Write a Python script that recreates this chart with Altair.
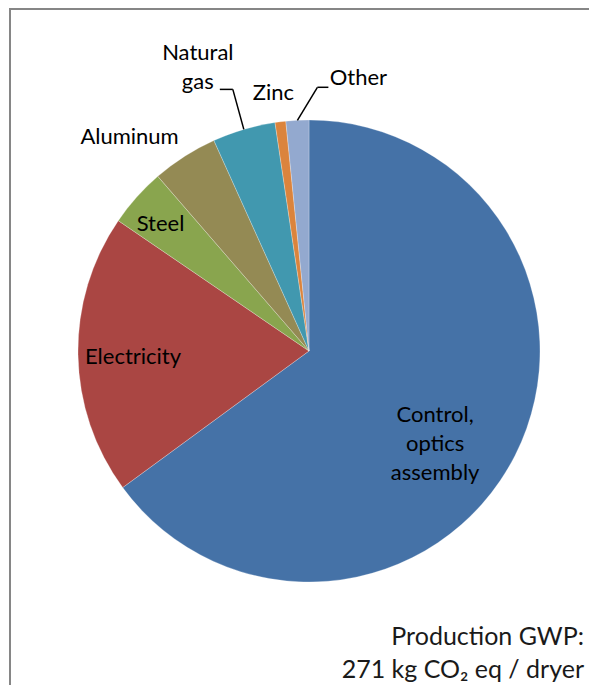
import altair as alt
import pandas as pd

categories = ["Control, optics assembly", "Electricity", "Steel", "Aluminum", "Natural gas", "Zinc", "Other"]
shares = [64.9, 19.6, 4.1, 4.6, 4.4, 0.75, 1.6]
colors = ["#4572A7", "#AA4643", "#89A54E", "#948A54", "#4198AF", "#DB843D", "#93A9CF"]
note_lines = ["Production GWP:", "271 kg CO\u2082 eq / dryer"]

df = pd.DataFrame({"category": categories, "value": shares, "order": list(range(len(categories)))})

W, H = 581, 677
CX, CY, R = 301, 343, 231
FONT = "Lato"
FS = 22
LH = 29

base = (
    alt.Chart(df)
    .transform_window(cum="sum(value)", sort=[alt.SortField("order")], frame=[None, 0])
    .transform_joinaggregate(total="sum(value)")
    .transform_calculate(mid="PI * (2 * datum.cum - datum.value) / datum.total")
)

pie = alt.Chart(df).mark_arc(radius=R, stroke="white", strokeWidth=0.5, strokeOpacity=0.5).encode(
    theta=alt.Theta("value:Q", stack=True),
    order=alt.Order("order:Q"),
    color=alt.Color("category:N", scale=alt.Scale(domain=categories, range=colors), legend=None),
    x=alt.value(CX),
    y=alt.value(CY),
)

# label layout: (radius from centre along slice middle, dx, dy of block centre, text)
label_layout = {
    "Control, optics assembly": (156, -13, 22, "Control,\noptics\nassembly"),
    "Electricity": (176, 0, 3, "Electricity"),
    "Steel": (195, -3, 3, "Steel"),
    "Aluminum": (R, -55, -19, "Aluminum"),
    "Natural gas": (R, -46, -62, "Natural\ngas"),
    "Zinc": (R, -7, -29, "Zinc"),
    "Other": (R, 61, -42, "Other"),
}

layers = [pie]
for cat, (rad, dx, dy, txt) in label_layout.items():
    nlines = txt.count("\n") + 1
    dy_first = dy - (nlines - 1) * LH / 2
    layers.append(
        base.transform_filter(alt.datum.category == cat)
        .transform_calculate(
            lx=f"{CX} + {rad} * sin(datum.mid) + ({dx})",
            ly=f"{CY} - {rad} * cos(datum.mid) + ({dy_first})",
        )
        .mark_text(font=FONT, fontSize=FS, color="black", lineBreak="\n", lineHeight=LH,
                   align="center", baseline="middle")
        .encode(x=alt.X("lx:Q", scale=None), y=alt.Y("ly:Q", scale=None), text=alt.value(txt))
    )

# leader lines: offsets of elbow and end from the slice's outer edge point
leaders = {
    "Natural gas": [(0, 0), (-11, -40), (-24, -40)],
    "Other": [(0, 0), (20, -33), (31, -33)],
}
for cat, pts in leaders.items():
    for (ax, ay), (bx, by) in zip(pts[:-1], pts[1:]):
        layers.append(
            base.transform_filter(alt.datum.category == cat)
            .transform_calculate(
                ex=f"{CX} + {R} * sin(datum.mid)",
                ey=f"{CY} - {R} * cos(datum.mid)",
            )
            .transform_calculate(
                x1=f"datum.ex + ({ax})", y1=f"datum.ey + ({ay})",
                x2=f"datum.ex + ({bx})", y2=f"datum.ey + ({by})",
            )
            .mark_rule(color="black", strokeWidth=1.5)
            .encode(
                x=alt.X("x1:Q", scale=None), y=alt.Y("y1:Q", scale=None),
                x2="x2:Q", y2="y2:Q",
            )
        )

note = alt.Chart(pd.DataFrame({"t": ["\n".join(note_lines)]})).mark_text(
    font=FONT, fontSize=25, color="#1a1a1a", align="right", baseline="middle",
    lineBreak="\n", lineHeight=33,
).encode(x=alt.value(576), y=alt.value(629), text="t:N")
layers.append(note)

frame_left = alt.Chart(df).mark_rule(color="#868686", strokeWidth=2).encode(
    x=alt.value(2), y=alt.value(0), y2=alt.value(H))
frame_top = alt.Chart(df).mark_rule(color="#868686", strokeWidth=2).encode(
    x=alt.value(1), x2=alt.value(W), y=alt.value(1))
layers += [frame_left, frame_top]

chart = alt.layer(*layers).properties(width=W, height=H, autosize="none", padding=0).configure_view(stroke=None)
chart.save("out.html", embed_options={"renderer": "svg", "actions": False})
